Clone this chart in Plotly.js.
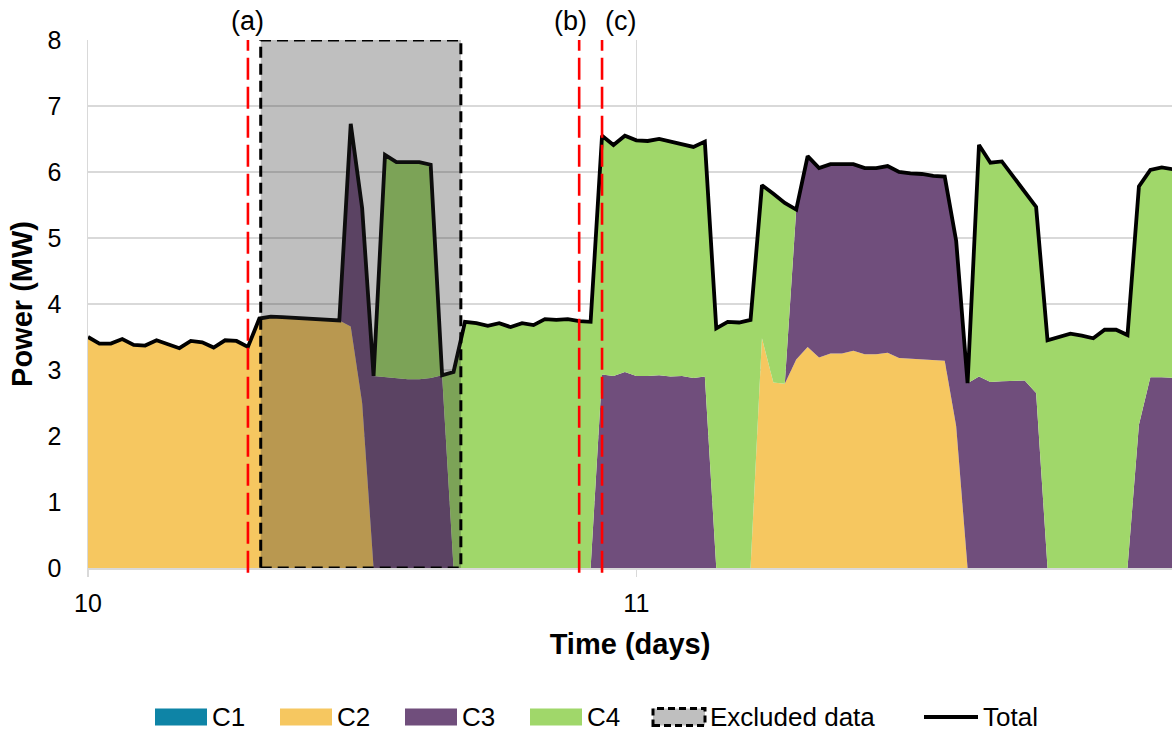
<!DOCTYPE html>
<html>
<head>
<meta charset="utf-8">
<script src="https://cdn.plot.ly/plotly-3.0.1.min.js"></script>
<style>
  html, body { margin: 0; padding: 0; background: #ffffff; }
  #chart { width: 1172px; height: 735px; }
</style>
</head>
<body>
<div id="chart"></div>
<script>
// Half-hourly power per consumer, days 10 to 12 (MW)
const START_DAY = 10;
const STEP_DAYS = 1 / 48;

const C1 = [
  0, 0, 0, 0, 0, 0, 0, 0, 0, 0, 0, 0, 0, 0, 0, 0, 0, 0, 0, 0, 0, 0, 0, 0,
  0, 0, 0, 0, 0, 0, 0, 0, 0, 0, 0, 0, 0, 0, 0, 0, 0, 0, 0, 0, 0, 0, 0, 0,
  0, 0, 0, 0, 0, 0, 0, 0, 0, 0, 0, 0, 0, 0, 0, 0, 0, 0, 0, 0, 0, 0, 0, 0,
  0, 0, 0, 0, 0, 0, 0, 0, 0, 0, 0, 0, 0, 0, 0, 0, 0, 0, 0, 0, 0, 0, 0, 0
];

const C2 = [
  3.50, 3.40, 3.40, 3.47, 3.38, 3.37, 3.45, 3.39, 3.33, 3.44, 3.42, 3.34,
  3.45, 3.44, 3.35, 3.78, 3.81, 3.80, 3.79, 3.78, 3.78, 3.77, 3.75, 3.66,
  2.50, 0, 0, 0, 0, 0, 0, 0, 0, 0, 0, 0,
  0, 0, 0, 0, 0, 0, 0, 0, 0, 0, 0, 0,
  0, 0, 0, 0, 0, 0, 0, 0, 0, 0, 0, 3.48,
  2.81, 2.79, 3.16, 3.35, 3.19, 3.25, 3.25, 3.29, 3.24, 3.24, 3.26, 3.18,
  3.17, 3.16, 3.15, 3.14, 2.15, 0, 0, 0, 0, 0, 0, 0,
  0, 0, 0, 0, 0, 0, 0, 0, 0, 0, 0, 0
];

const C3 = [
  0, 0, 0, 0, 0, 0, 0, 0, 0, 0, 0, 0,
  0, 0, 0, 0, 0, 0, 0, 0, 0, 0, 0, 3.07,
  2.95, 2.91, 2.89, 2.87, 2.86, 2.86, 2.88, 2.92, 0, 0, 0, 0,
  0, 0, 0, 0, 0, 0, 0, 0, 0, 2.93, 2.91, 2.97,
  2.91, 2.91, 2.92, 2.90, 2.91, 2.88, 2.90, 0, 0, 0, 0, 0,
  0, 0, 2.27, 2.89, 2.87, 2.87, 2.87, 2.83, 2.82, 2.82, 2.83, 2.82,
  2.81, 2.81, 2.79, 2.79, 2.81, 2.80, 2.90, 2.82, 2.83, 2.83, 2.84, 2.65,
  0, 0, 0, 0, 0, 0, 0, 0, 2.17, 2.89, 2.89, 2.88
];

const C4 = [
  0, 0, 0, 0, 0, 0, 0, 0, 0, 0, 0, 0,
  0, 0, 0, 0, 0, 0, 0, 0, 0, 0, 0, 0,
  0, 0, 3.37, 3.28, 3.29, 3.29, 3.23, 0, 2.97, 3.73, 3.71, 3.67,
  3.71, 3.65, 3.71, 3.68, 3.77, 3.76, 3.77, 3.74, 3.73, 3.62, 3.50, 3.58,
  3.57, 3.56, 3.58, 3.56, 3.52, 3.50, 3.56, 3.63, 3.73, 3.72, 3.76, 2.32,
  2.86, 2.74, 0, 0, 0, 0, 0, 0, 0, 0, 0, 0,
  0, 0, 0, 0, 0, 0, 3.51, 3.32, 3.33, 3.10, 2.84, 2.82,
  3.45, 3.50, 3.55, 3.52, 3.48, 3.61, 3.61, 3.53, 3.61, 3.14, 3.18, 3.16
];

const TOTAL = [
  3.50, 3.40, 3.40, 3.47, 3.38, 3.37, 3.45, 3.39, 3.33, 3.44, 3.42, 3.34,
  3.45, 3.44, 3.35, 3.78, 3.81, 3.80, 3.79, 3.78, 3.78, 3.77, 3.75, 6.73,
  5.45, 2.91, 6.26, 6.15, 6.15, 6.15, 6.11, 2.92, 2.97, 3.73, 3.71, 3.67,
  3.71, 3.65, 3.71, 3.68, 3.77, 3.76, 3.77, 3.74, 3.73, 6.55, 6.41, 6.55,
  6.48, 6.47, 6.50, 6.46, 6.43, 6.38, 6.46, 3.63, 3.73, 3.72, 3.76, 5.80,
  5.67, 5.53, 5.43, 6.24, 6.06, 6.12, 6.12, 6.12, 6.06, 6.06, 6.09, 6.00,
  5.98, 5.97, 5.94, 5.93, 4.96, 2.80, 6.41, 6.14, 6.16, 5.93, 5.68, 5.47,
  3.45, 3.50, 3.55, 3.52, 3.48, 3.61, 3.61, 3.53, 5.78, 6.03, 6.07, 6.04
];

const SERIES_NAMES = ['C1', 'C2', 'C3', 'C4'];
const SERIES_COLORS = ['#0E84A6', '#F6C760', '#704E7C', '#A0D76A'];

// Marked events and the excluded window (days)
const EVENT_LABELS = ['(a)', '(b)', '(c)'];
const EVENT_DAYS = [10.2917, 10.8958, 10.9375];
const EVENT_LABEL_SHIFT = [0, -9, 18];
const EXCLUDED_DAYS = [10.315, 10.68];

const X_RANGE = [10, 11.977];
const Y_RANGE = [0, 8];
const X_TICKS = [10, 11];
const X_TICK_TEXT = ['10', '11'];

const FONT = 'Liberation Sans, Arial, sans-serif';

const days = TOTAL.map((_, i) => START_DAY + i * STEP_DAYS);

// Plot area in pixels, used to place the hand-drawn legend
const M = { l: 88, r: 0, t: 40, b: 167 };
const W = 1172, H = 735;
const PW = W - M.l - M.r, PH = H - M.t - M.b;
const px = x => (x - M.l) / PW;
const py = y => (H - M.b - y) / PH;

const componentData = [C1, C2, C3, C4];
const traces = componentData.map((vals, i) => ({
  type: 'scatter',
  mode: 'lines',
  name: SERIES_NAMES[i],
  x: days,
  y: vals,
  stackgroup: 'power',
  line: { width: 0, color: SERIES_COLORS[i] },
  fillcolor: SERIES_COLORS[i],
  hoverinfo: 'skip',
  showlegend: false
}));

traces.push({
  type: 'scatter',
  mode: 'lines',
  name: 'Total',
  x: days,
  y: TOTAL,
  line: { color: '#000000', width: 3.8 },
  hoverinfo: 'skip',
  showlegend: false
});

const shapes = [];
const annotations = [];

// Excluded window, shaded over the areas
shapes.push({
  type: 'rect', layer: 'above',
  xref: 'x', yref: 'y',
  x0: EXCLUDED_DAYS[0], x1: EXCLUDED_DAYS[1], y0: Y_RANGE[0], y1: Y_RANGE[1],
  fillcolor: 'rgba(42,42,42,0.3)',
  line: { color: '#000000', width: 3, dash: '11px,6px' }
});

// Event markers
EVENT_DAYS.forEach((d, i) => {
  shapes.push({
    type: 'line', layer: 'above',
    xref: 'x', yref: 'paper',
    x0: d, x1: d, y0: -0.009, y1: 1,
    line: { color: '#FF0000', width: 2.6, dash: '22px,7px' }
  });
  annotations.push({
    xref: 'x', yref: 'paper',
    x: d, y: py(21), xshift: EVENT_LABEL_SHIFT[i],
    text: EVENT_LABELS[i],
    showarrow: false,
    xanchor: 'center', yanchor: 'middle',
    font: { family: FONT, size: 27, color: '#000000' }
  });
});

// Legend row
const LEG_Y = 717, BOX_H = 17;
const legendItems = [
  { kind: 'box', color: SERIES_COLORS[0], x0: 155, x1: 207, label: SERIES_NAMES[0] },
  { kind: 'box', color: SERIES_COLORS[1], x0: 280, x1: 332, label: SERIES_NAMES[1] },
  { kind: 'box', color: SERIES_COLORS[2], x0: 405, x1: 457, label: SERIES_NAMES[2] },
  { kind: 'box', color: SERIES_COLORS[3], x0: 530, x1: 582, label: SERIES_NAMES[3] },
  { kind: 'excl', color: '#BFBFBF', x0: 653, x1: 705, label: 'Excluded data' },
  { kind: 'line', color: '#000000', x0: 924, x1: 978, label: 'Total' }
];
legendItems.forEach(it => {
  if (it.kind === 'line') {
    shapes.push({
      type: 'line', xref: 'paper', yref: 'paper',
      x0: px(it.x0), x1: px(it.x1), y0: py(LEG_Y), y1: py(LEG_Y),
      line: { color: it.color, width: 3.8 }
    });
  } else {
    shapes.push({
      type: 'rect', xref: 'paper', yref: 'paper',
      x0: px(it.x0), x1: px(it.x1),
      y0: py(LEG_Y + BOX_H / 2), y1: py(LEG_Y - BOX_H / 2),
      fillcolor: it.color,
      line: it.kind === 'excl'
        ? { color: '#000000', width: 3, dash: '7px,4px' }
        : { width: 0 }
    });
  }
  annotations.push({
    xref: 'paper', yref: 'paper',
    x: px(it.x1 + 3), y: py(LEG_Y),
    text: it.label, showarrow: false,
    xanchor: 'left', yanchor: 'middle',
    font: { family: FONT, size: 26, color: '#000000' }
  });
});

const layout = {
  width: W, height: H,
  margin: M,
  paper_bgcolor: '#ffffff',
  plot_bgcolor: '#ffffff',
  showlegend: false,
  font: { family: FONT, size: 24, color: '#000000' },
  xaxis: {
    range: X_RANGE,
    tickvals: X_TICKS,
    ticktext: X_TICK_TEXT,
    showgrid: true, gridcolor: '#D9D9D9', gridwidth: 1.5,
    showline: true, linecolor: '#D9D9D9', linewidth: 1.5,
    ticks: 'outside', ticklen: 7, tickcolor: '#D9D9D9', tickwidth: 1.5,
    ticklabelstandoff: 5,
    zeroline: false,
    tickfont: { family: FONT, size: 25, color: '#000000' },
    title: { text: 'Time (days)', standoff: 18,
             font: { family: FONT, size: 29, weight: 'bold', color: '#000000' } }
  },
  yaxis: {
    range: Y_RANGE,
    dtick: 1, tick0: 0,
    showgrid: true, gridcolor: '#D9D9D9', gridwidth: 1.5,
    showline: true, linecolor: '#D9D9D9', linewidth: 1.5,
    ticks: '',
    ticklabelstandoff: 20,
    zeroline: false,
    tickfont: { family: FONT, size: 25, color: '#000000' },
    title: { text: 'Power (MW)', standoff: 6,
             font: { family: FONT, size: 29, weight: 'bold', color: '#000000' } }
  },
  shapes: shapes,
  annotations: annotations
};

Plotly.newPlot('chart', traces, layout, { staticPlot: true, displayModeBar: false });
</script>
</body>
</html>
